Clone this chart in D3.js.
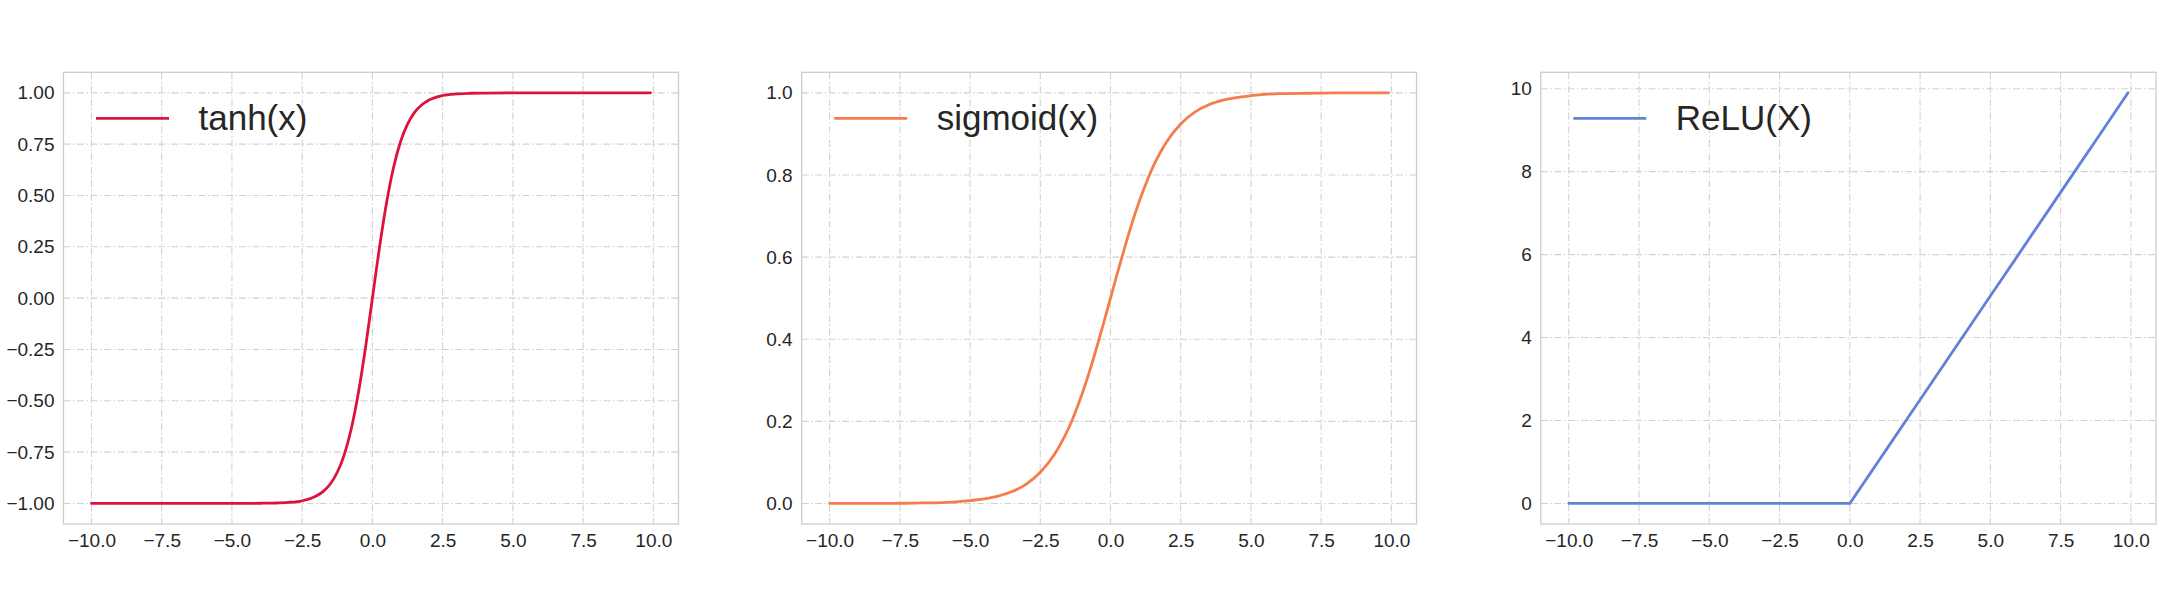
<!DOCTYPE html>
<html>
<head>
<meta charset="utf-8">
<script src="https://cdn.jsdelivr.net/npm/d3@7"></script>
<style>
  html,body{margin:0;padding:0;background:#fff;}
  svg{display:block;}
  .tick-lbl{font-family:'Liberation Sans',Arial,sans-serif;font-size:19px;fill:#262626;}
  .leg-lbl{font-family:'Liberation Sans',Arial,sans-serif;font-size:35px;fill:#262626;}
</style>
</head>
<body>
<div id="chart"></div>
<script>
// sample points (x) and the three activation curves
const xs       = [-10, -9, -8, -7, -6, -5, -4, -3.5, -3, -2.5, -2, -1.75, -1.5, -1.25, -1, -0.75, -0.5, -0.25, 0, 0.25, 0.5, 0.75, 1, 1.25, 1.5, 1.75, 2, 2.5, 3, 3.5, 4, 5, 6, 7, 8, 9, 9.9];
const tanhY    = [-1, -1, -1, -1, -1, -1, -0.999, -0.998, -0.995, -0.987, -0.964, -0.941, -0.905, -0.848, -0.762, -0.635, -0.462, -0.245, 0, 0.245, 0.462, 0.635, 0.762, 0.848, 0.905, 0.941, 0.964, 0.987, 0.995, 0.998, 0.999, 1, 1, 1, 1, 1, 1];
const sigmoidY = [0, 0, 0, 0.001, 0.002, 0.007, 0.018, 0.029, 0.047, 0.076, 0.119, 0.148, 0.182, 0.223, 0.269, 0.321, 0.378, 0.438, 0.5, 0.562, 0.622, 0.679, 0.731, 0.777, 0.818, 0.852, 0.881, 0.924, 0.953, 0.971, 0.982, 0.993, 0.998, 0.999, 1, 1, 1];
const reluY    = [0, 0, 0, 0, 0, 0, 0, 0, 0, 0, 0, 0, 0, 0, 0, 0, 0, 0, 0, 0.25, 0.5, 0.75, 1, 1.25, 1.5, 1.75, 2, 2.5, 3, 3.5, 4, 5, 6, 7, 8, 9, 9.9];

const xTicks    = [-10, -7.5, -5, -2.5, 0, 2.5, 5, 7.5, 10];
const tanhTicks = [-1, -0.75, -0.5, -0.25, 0, 0.25, 0.5, 0.75, 1];
const sigTicks  = [0, 0.2, 0.4, 0.6, 0.8, 1];
const reluTicks = [0, 2, 4, 6, 8, 10];

const W=2163,H=600;
const svg=d3.select('#chart').append('svg').attr('width',W).attr('height',H).attr('viewBox',`0 0 ${W} ${H}`);

const panels=[
  {ys:tanhY, label:'tanh(x)', col:'#dc143c', ticks:tanhTicks, fmt:d3.format('.2f'), yDom:[-1.1,1.1], x0:63.5, x1:678.5, curve:d3.curveMonotoneX},
  {ys:sigmoidY, label:'sigmoid(x)', col:'#f67d4b', ticks:sigTicks, fmt:d3.format('.1f'), yDom:[-0.05,1.05], x0:801.7, x1:1416.5, curve:d3.curveMonotoneX},
  {ys:reluY, label:'ReLU(X)', col:'#6282d8', ticks:reluTicks, fmt:d3.format('d'), yDom:[-0.495,10.395], x0:1540.8, x1:2156, curve:d3.curveLinear}
];
const pTop=72.3,pBot=524;

function drawPanel(p){
  const x=d3.scaleLinear().domain([-10.995,10.895]).range([p.x0,p.x1]);
  const y=d3.scaleLinear().domain(p.yDom).range([pBot,pTop]);
  const g=svg.append('g');
  // grid
  g.append('g').selectAll('line').data(xTicks).join('line')
    .attr('x1',d=>x(d)).attr('x2',d=>x(d)).attr('y1',pTop).attr('y2',pBot)
    .attr('stroke','#d2d2d2').attr('stroke-width',1.1).attr('stroke-dasharray','7,2.5,1.5,2.5');
  g.append('g').selectAll('line').data(p.ticks).join('line')
    .attr('x1',p.x0).attr('x2',p.x1).attr('y1',d=>y(d)).attr('y2',d=>y(d))
    .attr('stroke','#d2d2d2').attr('stroke-width',1.1).attr('stroke-dasharray','7,2.5,1.5,2.5');
  // frame
  g.append('rect').attr('x',p.x0).attr('y',pTop).attr('width',p.x1-p.x0).attr('height',pBot-pTop)
    .attr('fill','none').attr('stroke','#cccccc').attr('stroke-width',1.3);
  // axes (labels only, no tick marks)
  const ax=g.append('g').attr('transform',`translate(0,${pBot})`)
    .call(d3.axisBottom(x).tickValues(xTicks).tickFormat(d3.format('.1f')).tickSize(0).tickPadding(10));
  ax.select('.domain').remove();
  ax.selectAll('text').attr('class','tick-lbl');
  ax.attr('font-size',null).attr('font-family',null);
  const ay=g.append('g').attr('transform',`translate(${p.x0},0)`)
    .call(d3.axisLeft(y).tickValues(p.ticks).tickFormat(p.fmt).tickSize(0).tickPadding(9));
  ay.select('.domain').remove();
  ay.selectAll('text').attr('class','tick-lbl');
  ay.attr('font-size',null).attr('font-family',null);
  // curve
  const data=xs.map((v,i)=>[v,p.ys[i]]);
  g.append('path').datum(data).attr('fill','none').attr('stroke',p.col).attr('stroke-width',2.8)
    .attr('stroke-linejoin','round').attr('stroke-linecap','round')
    .attr('d',d3.line().x(d=>x(d[0])).y(d=>y(d[1])).curve(p.curve));
  // legend
  g.append('line').attr('x1',p.x0+32.5).attr('x2',p.x0+105.5).attr('y1',118.3).attr('y2',118.3)
    .attr('stroke',p.col).attr('stroke-width',2.8);
  g.append('text').attr('class','leg-lbl').attr('x',p.x0+135).attr('y',130).text(p.label);
}
panels.forEach(drawPanel);
</script>
</body>
</html>
